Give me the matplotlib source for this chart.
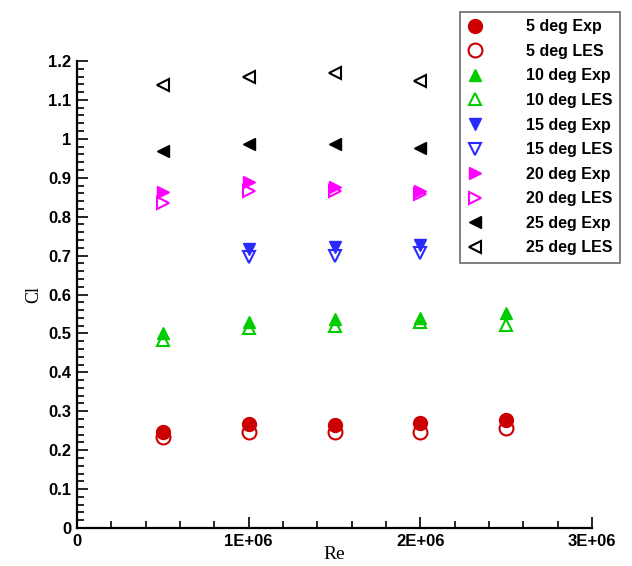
import numpy as np
import matplotlib.pyplot as plt
from matplotlib.ticker import MultipleLocator, FuncFormatter, FormatStrFormatter

# Reynolds numbers of the test points
re_all = [5e5, 1e6, 1.5e6, 2e6, 2.5e6]
re_mid = [5e5, 1e6, 1.5e6, 2e6]
re_blue = [1e6, 1.5e6, 2e6]

# lift coefficient, experiment vs LES, per angle of attack
cl_5_exp = [0.246, 0.267, 0.266, 0.271, 0.277]
cl_5_les = [0.235, 0.247, 0.247, 0.247, 0.256]
cl_10_exp = [0.500, 0.530, 0.537, 0.539, 0.553]
cl_10_les = [0.483, 0.513, 0.519, 0.530, 0.521]
cl_15_exp = [0.718, 0.722, 0.726]
cl_15_les = [0.697, 0.700, 0.707]
cl_20_exp = [0.863, 0.888, 0.877, 0.865]
cl_20_les = [0.835, 0.866, 0.866, 0.858]
cl_25_exp = [0.968, 0.987, 0.987, 0.977]
cl_25_les = [1.138, 1.160, 1.168, 1.149]

fig = plt.figure(figsize=(6.32, 5.66), dpi=100)
ax = fig.add_axes([0.1218, 0.0671, 0.815, 0.8251])

red, green, blue, mag = "#cc0000", "#00cc00", "#2a2aff", "#ff00ff"
open_kw = dict(linestyle="none", markerfacecolor="none", markeredgewidth=1.5)
fill_kw = dict(linestyle="none")

ax.plot(re_all, cl_5_exp, "o", color=red, ms=10, label="5 deg Exp", **fill_kw)
ax.plot(re_all, cl_5_les, "o", color=red, ms=10, label="5 deg LES", **open_kw)
ax.plot(re_all, cl_10_exp, "^", color=green, ms=9, label="10 deg Exp", **fill_kw)
ax.plot(re_all, cl_10_les, "^", color=green, ms=9, label="10 deg LES", **open_kw)
ax.plot(re_blue, cl_15_exp, "v", color=blue, ms=9, label="15 deg Exp", **fill_kw)
ax.plot(re_blue, cl_15_les, "v", color=blue, ms=9, label="15 deg LES", **open_kw)
ax.plot(re_mid, cl_20_exp, ">", color=mag, ms=9, label="20 deg Exp", **fill_kw)
ax.plot(re_mid, cl_20_les, ">", color=mag, ms=9, label="20 deg LES", **open_kw)
ax.plot(re_mid, cl_25_exp, "<", color="black", ms=9, label="25 deg Exp", **fill_kw)
ax.plot(re_mid, cl_25_les, "<", color="black", ms=9, label="25 deg LES", **open_kw)

ax.set_xlim(0, 3e6)
ax.set_ylim(0, 1.2)
ax.spines["top"].set_visible(False)
ax.spines["right"].set_visible(False)
ax.spines["left"].set_linewidth(1.6)
ax.spines["bottom"].set_linewidth(1.6)

ax.xaxis.set_major_locator(MultipleLocator(1e6))
ax.xaxis.set_minor_locator(MultipleLocator(2e5))
ax.yaxis.set_major_locator(MultipleLocator(0.1))
ax.yaxis.set_minor_locator(MultipleLocator(0.02))
ax.xaxis.set_major_formatter(FuncFormatter(lambda v, p: "0" if v == 0 else f"{v:.0E}"))
ax.yaxis.set_major_formatter(FormatStrFormatter("%g"))
ax.tick_params(which="both", direction="in", top=False, right=False, width=1.2)
ax.tick_params(which="major", length=8, labelsize=12, pad=4)
ax.tick_params(which="minor", length=5)
for lab in ax.get_xticklabels() + ax.get_yticklabels():
    lab.set_fontweight("bold")
    lab.set_family(["Liberation Sans", "DejaVu Sans"])

ax.set_xlabel("Re", family="Liberation Serif", fontsize=14)
ax.xaxis.set_label_coords(0.5, -0.038)
ax.set_ylabel("Cl", family="Liberation Serif", fontsize=13, labelpad=4)

leg = fig.legend(loc="upper left", bbox_to_anchor=(460 / 632, 1 - 12 / 566),
                 borderaxespad=0, frameon=True, fancybox=False,
                 handlelength=1.0, handletextpad=2.7, labelspacing=0.6,
                 borderpad=0.45,
                 prop={"family": "Liberation Sans", "weight": "bold", "size": 11.5})
leg.get_frame().set_edgecolor("#444444")
leg.get_frame().set_linewidth(1.2)

fig.savefig("out.png", dpi=100)
